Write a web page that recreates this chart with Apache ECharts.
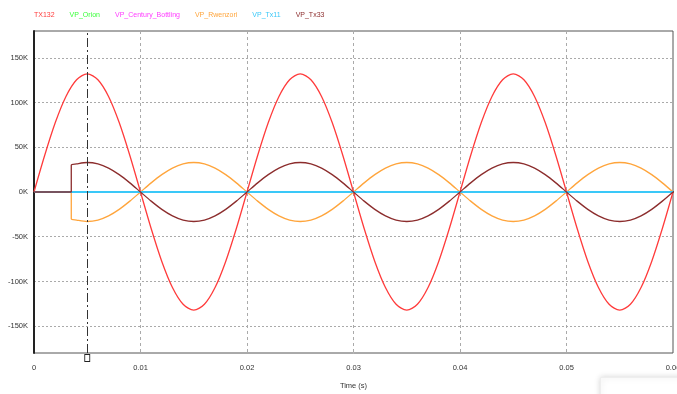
<!DOCTYPE html>
<html>
<head>
<meta charset="utf-8">
<script src="https://cdn.jsdelivr.net/npm/echarts@6/dist/echarts.min.js"></script>
<style>html,body{margin:0;padding:0;background:#fff}#c{width:677px;height:394px}</style>
</head>
<body>
<div id="c"></div>
<script>
// Time samples (s)
var time = [0,0.001,0.002,0.003,0.004,0.005,0.006,0.007,0.008,0.009,0.010,0.011,0.012,0.013,0.014,0.015,0.016,0.017,0.018,0.019,0.020,0.021,0.022,0.023,0.024,0.025,0.026,0.027,0.028,0.029,0.030,0.031,0.032,0.033,0.034,0.035,0.036,0.037,0.038,0.039,0.040,0.041,0.042,0.043,0.044,0.045,0.046,0.047,0.048,0.049,0.050,0.051,0.052,0.053,0.054,0.055,0.056,0.057,0.058,0.059,0.060];
// TX132 (V)
var tx132 = [0,40800,77600,106800,125500,132000,125500,106800,77600,40800,0,-40800,-77600,-106800,-125500,-132000,-125500,-106800,-77600,-40800,0,40800,77600,106800,125500,132000,125500,106800,77600,40800,0,-40800,-77600,-106800,-125500,-132000,-125500,-106800,-77600,-40800,0,40800,77600,106800,125500,132000,125500,106800,77600,40800,0,-40800,-77600,-106800,-125500,-132000,-125500,-106800,-77600,-40800,0];
// Tx33 / Rwenzori time samples (switch-on at 0.0035 s)
var swTime = [0,0.0035,0.0035,0.004,0.005,0.006,0.007,0.008,0.009,0.010,0.011,0.012,0.013,0.014,0.015,0.016,0.017,0.018,0.019,0.020,0.021,0.022,0.023,0.024,0.025,0.026,0.027,0.028,0.029,0.030,0.031,0.032,0.033,0.034,0.035,0.036,0.037,0.038,0.039,0.040,0.041,0.042,0.043,0.044,0.045,0.046,0.047,0.048,0.049,0.050,0.051,0.052,0.053,0.054,0.055,0.056,0.057,0.058,0.059,0.060];
var vpTx33 = [0,0,30000,31400,33000,31400,26700,19400,10200,0,-10200,-19400,-26700,-31400,-33000,-31400,-26700,-19400,-10200,0,10200,19400,26700,31400,33000,31400,26700,19400,10200,0,-10200,-19400,-26700,-31400,-33000,-31400,-26700,-19400,-10200,0,10200,19400,26700,31400,33000,31400,26700,19400,10200,0,-10200,-19400,-26700,-31400,-33000,-31400,-26700,-19400,-10200,0];
var vpRwenzori = [0,0,-30000,-31400,-33000,-31400,-26700,-19400,-10200,0,10200,19400,26700,31400,33000,31400,26700,19400,10200,0,-10200,-19400,-26700,-31400,-33000,-31400,-26700,-19400,-10200,0,10200,19400,26700,31400,33000,31400,26700,19400,10200,0,-10200,-19400,-26700,-31400,-33000,-31400,-26700,-19400,-10200,0,10200,19400,26700,31400,33000,31400,26700,19400,10200,0];
// Flat traces
var flatTime = [0,0.06];
var vpOrion = [0,0];
var vpCentury = [0,0];
var vpTx11 = [0,0];
// Axis ticks
var yTicks = [-150000,-100000,-50000,0,50000,100000,150000];
var yMin = -180000, yMax = 180000;
var cursorTime = 0.005;

var names = ['TX132','VP_Orion','VP_Century_Bottling','VP_Rwenzori','VP_Tx11','VP_Tx33'];
var colors = ['#ff3b3b','#3cff3c','#ff3cff','#ffa53c','#3ac8f8','#8c2d2d'];

function pairs(t, v){ return t.map(function(x,i){ return [x, v[i]]; }); }

var font = '"Liberation Sans", Arial, sans-serif';
var chart = echarts.init(document.getElementById('c'));
chart.setOption({
  animation: false,
  backgroundColor: '#fff',
  color: colors,
  legend: {
    top: 7, left: 24, itemGap: 10, itemWidth: 0, itemHeight: 0, icon: 'none',
    selectedMode: false,
    data: names.map(function(n,i){ return {name:n, textStyle:{color:colors[i]}}; }),
    textStyle: {fontFamily: font, fontSize: 7, padding: 0}
  },
  grid: {left: 34, right: 4, top: 31, bottom: 41, outerBoundsMode: 'none', containLabel: false,
         show: true, borderColor: '#555', borderWidth: 1},
  xAxis: {
    type: 'value', min: 0, max: 0.06, interval: 0.01,
    name: 'Time (s)', nameLocation: 'middle', nameGap: 29,
    nameTextStyle: {fontFamily: font, fontSize: 7.5, color: '#333'},
    axisLine: {lineStyle: {color: '#222', width: 2}},
    axisTick: {show: false},
    axisLabel: {fontFamily: font, fontSize: 7.5, color: '#333', margin: 11,
      formatter: function(v){ return v === 0 ? '0' : String(Math.round(v*100)/100); }},
    splitLine: {show: true, lineStyle: {color: '#aaa', type: [3,3], width: 1}}
  },
  yAxis: {
    type: 'value', min: yMin, max: yMax,
    axisLine: {show: true, lineStyle: {color: '#222', width: 2}},
    axisTick: {show: false, customValues: yTicks},
    axisLabel: {fontFamily: font, fontSize: 7.5, color: '#333', margin: 6, customValues: yTicks,
      formatter: function(v){ return Math.round(v/1000) + 'K'; }},
    splitLine: {show: true, lineStyle: {color: '#aaa', type: [2,2], width: 1}}
  },
  graphic: [{
    type: 'rect', left: 600, top: 377, shape: {width: 90, height: 30},
    style: {fill: '#fff', stroke: '#eee', lineWidth: 1, shadowBlur: 6, shadowColor: 'rgba(0,0,0,0.18)'},
    z: 100
  }],
  series: [
    {name: names[0], type: 'line', data: pairs(time, tx132), smooth: 0.3, showSymbol: false, lineStyle: {width: 1.3}, z: 2,
     markLine: {silent: true, symbol: ['none','none'], label: {show: false}, precision: 4,
       lineStyle: {color: '#333', type: [9,3,2,3], width: 1},
       data: [[{coord: [cursorTime, yMin]}, {coord: [cursorTime, yMax]}]]},
     markPoint: {silent: true, symbol: 'rect', symbolSize: [5,7], symbolOffset: [0,5],
       itemStyle: {color: '#fff', borderColor: '#222', borderWidth: 1}, label: {show: false},
       data: [{coord: [cursorTime, yMin]}]}
    },
    {name: names[1], type: 'line', data: pairs(flatTime, vpOrion), showSymbol: false, lineStyle: {width: 1}, z: 2},
    {name: names[2], type: 'line', data: pairs(flatTime, vpCentury), showSymbol: false, lineStyle: {width: 1}, z: 2},
    {name: names[3], type: 'line', data: pairs(swTime, vpRwenzori), smooth: 0.3, showSymbol: false, lineStyle: {width: 1.3}, z: 2},
    {name: names[4], type: 'line', data: pairs(flatTime, vpTx11), showSymbol: false, lineStyle: {width: 2}, z: 3},
    {name: names[5], type: 'line', data: pairs(swTime, vpTx33), smooth: 0.3, showSymbol: false, lineStyle: {width: 1.3}, z: 4}
  ]
});
</script>
</body>
</html>
